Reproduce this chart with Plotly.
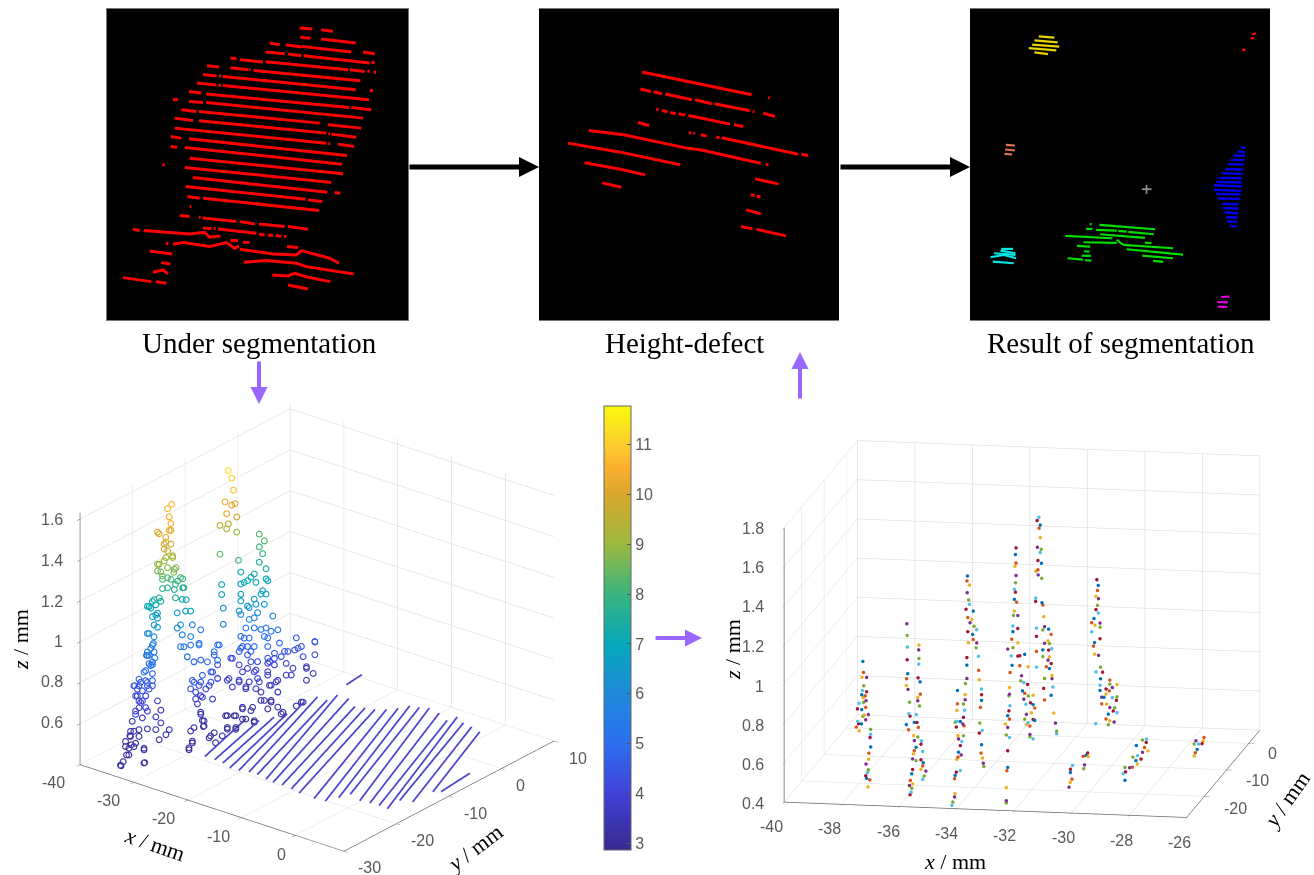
import plotly.graph_objects as go

W, H = 1314, 875

# ---------- top row: scan rows seen in the three black panels (image units) ----------
under_rows = [(600,85,638,88),(665,90,700,95),(602,113,632,116),(665,118,768,130),(510,130,540,135),(558,135,605,142),
 (605,140,755,157),(790,157,825,162),(498,157,555,162),(565,163,605,168),(612,168,810,190),(815,188,825,188),
 (392,175,410,177),(420,180,490,187),(498,186,745,210),(750,210,795,215),(803,214,810,215),(822,217,829,218),
 (322,198,358,202),(392,204,445,210),(448,209,453,210),(462,212,782,243),(310,224,350,229),(358,229,364,229),(370,230,768,270),
 (810,272,820,273),(292,250,350,256),(356,257,364,257),(370,257,808,300),(268,275,305,280),(320,283,748,323),(755,323,815,330),
 (268,305,310,308),(320,308,790,355),(245,330,290,335),(298,335,660,370),(685,375,785,385),(225,355,280,362),(298,363,680,400),
 (686,402,691,402),(695,403,770,412),(225,385,680,430),(686,431,692,432),(715,433,763,440),(213,410,245,415),(268,417,742,467),
 (213,440,232,442),(255,443,727,493),(270,475,730,522),(255,503,695,548),(280,533,683,577),(258,560,618,598),(625,600,668,605),
 (263,590,300,595),(310,595,658,632),(240,647,270,650),(297,652,303,652),(310,654,410,665),(420,665,465,672),
 (478,672,555,680),(565,680,625,688),(310,684,335,686),(342,686,348,686),(355,687,470,700),(478,702,495,705),(505,705,520,707),
 (528,707,545,709),(553,710,560,710),(392,722,415,722),(430,727,450,728),(562,740,595,743),(150,753,218,762),(185,788,212,792),
 (70,833,155,845),(168,845,200,850),(565,855,625,867),(270,620,275,620),(188,495,195,495),(220,300,235,299),(705,578,722,580),
 (812,272,819,272),(100,688,120,692),(198,731,206,731)]
under_wavy = [[(132,692),(200,698),(270,702),(315,697),(330,712),(362,708)],
 [(220,733),(250,728),(330,740),(380,728),(405,745),(418,738)],
 [(420,748),(520,762),(590,765),(605,752),(690,775),(718,790)],
 [(160,817),(190,810),(205,822)],
 [(432,787),(500,782),(590,790),(620,800),(762,822)],
 [(518,825),(565,828),(585,820),(625,832),(692,845)]]

height_rows = [(335,217,665,285),(330,268,362,275),(370,276,395,282),(405,283,485,300),(495,300,545,312),(553,312,660,333),
 (668,335,673,336),(700,340,735,350),(715,293,720,295),(378,328,385,330),(395,332,412,336),(420,338,436,342),(445,342,465,346),
 (475,347,600,373),(612,375,640,380),(323,368,357,377),(175,392,280,405),(280,405,470,445),(470,445,510,450),(510,450,692,490),
 (708,494,716,495),(112,430,270,457),(270,457,450,495),(162,489,270,508),(270,508,345,525),(215,549,273,562),(476,398,483,400),
 (490,400,495,401),(512,405,530,409),(558,412,568,414),(575,414,805,463),(815,463,835,467),(675,537,745,552),(662,585,675,587),
 (680,589,692,591),(648,630,693,642),(633,680,668,687),(680,688,768,708)]

seg_yellow = [(235,110,282,114),(222,122,292,128),(215,135,297,141),(205,145,288,152),(222,158,263,163)]
seg_red = [(878,103,890,102),(874,115,884,116),(848,150,858,151)]
seg_orange = [(136,435,163,437),(134,449,163,452),(132,462,155,464)]
seg_blue = [(845,443,858,444),(835,455,857,457),(822,467,856,468),(813,480,855,481),(805,493,853,494),(797,508,852,509),
 (786,520,850,522),(778,534,848,535),(770,546,848,548),(763,556,847,560),(763,570,845,573),(770,582,845,584),(775,596,842,597),
 (788,612,838,613),(790,625,838,626),(795,638,836,640),(800,652,835,653),(803,664,833,666),(812,678,832,680)]
seg_cyan = [(122,747,158,747),(100,760,165,765),(90,772,130,765),(130,765,167,775),(97,785,160,790),(120,752,165,760)]
seg_green = [(418,675,586,688),(408,690,470,692),(475,693,500,695),(505,696,582,703),(378,687,397,687),(389,673,395,673),
 (315,708,457,715),(420,703,555,714),(370,727,470,729),(470,720,490,735),(490,735,640,745),(555,728,575,730),(350,738,390,740),
 (500,748,670,764),(372,754,388,755),(365,767,392,768),(322,775,368,779),(375,781,394,782),(547,767,640,775),(580,783,610,786)]
seg_magenta = [(785,891,810,890),(773,906,805,907),(775,920,803,921)]
seg_cross = [(546,568,575,568),(560,555,560,582)]

# ---------- lower left: points read as (y, z, colour value), one list per x ----------
leg1_x = -33
leg1 = [(-29.39,.447,3.2),(-29.01,.462,3.2),(-28.37,.486,3.2),(-27.92,.513,3.2),(-27.47,.524,3.2),(-26.63,.52,3.2),(-28.56,.555,3.2),
 (-27.72,.571,3.3),(-26.96,.583,3.4),(-25.99,.578,3.4),(-25.03,.466,3.2),(-24.9,.402,3.1),(-27.28,.636,4),(-26.63,.661,4),(-25.99,.685,4),
 (-25.35,.71,4.1),(-26.31,.747,4.2),(-24.71,.726,4.2),(-24.07,.75,4.3),(-25.67,.805,4.6),(-24.71,.8,4.6),(-23.43,.758,4.4),(-26.83,.804,4.7),
 (-24.07,.874,5.2),(-23.43,.861,5.2),(-24.58,.922,5.4),(-23.75,.944,5.6),(-22.98,.888,5.4),(-23.11,.993,6),(-24.07,1.022,6.2),(-23.11,1.051,6.5),
 (-22.47,1.075,6.7),(-23.43,1.096,6.9),(-24.07,1.154,7.3),(-23.11,1.174,7.5),(-22.15,1.17,7.5),(-21.51,1.207,7.8),(-22.79,1.095,6.9),
 (-22.47,1.339,9),(-21.83,1.293,8.7),(-20.87,1.35,9.1),(-20.55,1.296,8.8),(-18.94,1.275,8.8),(-19.58,1.333,9),(-21.51,1.268,8.4),
 (-20.87,1.425,10),(-22.15,1.483,10.1),(-19.9,1.403,9.8),(-21.19,1.396,9.7),(-20.22,1.54,10.5),(-19.78,1.596,10.7),(-20.55,1.585,10.6),(-19.9,1.47,10.2),
 (-29.52,.452,3.2),(-25.03,.402,3.1),(-27.92,.48,3.1),(-26.96,.508,3.2),(-28.56,.53,3.2),(-27.6,.566,3.2),(-25.99,.545,3.2),(-27.6,.591,3.3),(-25.03,.474,3.2),
 (-24.39,.56,3.4),(-20.87,.484,3.2),(-22.15,.477,3.2),(-22.79,.535,3.3),(-21.83,.555,3.5),(-20.22,.5,3.3),(-25.35,.627,3.6),(-27.28,.636,3.5),(-26.63,.677,3.9),
 (-24.39,.647,3.8),(-25.67,.706,4),(-26.63,.751,4.2),(-24.71,.725,4.2),(-22.47,.671,3.9),(-21.83,.617,3.6),(-22.79,.597,3.5),(-26.31,.78,4.4),(-24.39,.771,4.5),
 (-25.99,.825,4.8),(-23.43,.783,4.7),(-26.96,.805,4.6),(-24.71,.849,5),(-23.43,.874,5.3),(-24.07,.915,5.5),(-23.43,.956,5.8),(-24.39,.936,5.6),
 (-22.79,1.145,7),(-24.39,1.159,7),(-23.43,1.17,7.3),(-22.47,1.1,6.7),(-23.43,1.096,6.6),(-24.39,1.026,6),(-23.24,.962,5.7),(-23.11,.919,5.4),(-24.39,.919,5.3),
 (-23.75,.861,5),(-25.03,.846,4.9),(-23.43,.817,4.8),(-25.99,.792,4.5),(-24.39,.787,4.6),(-26.63,.752,4.2),(-25.35,.759,4.3),(-25.99,.718,4.1),(-24.71,.668,3.9),
 (-22.47,1.031,6.4),(-22.15,1.334,8.9),(-21.19,1.338,9.1),(-22.47,1.306,8.6),(-21.51,1.252,8.2),(-20.55,1.247,8.2),(-19.26,1.271,8.6),(-19.9,1.23,8.1),(-18.62,1.205,7.9),
 (-17.66,1.203,7.9),(-20.55,1.198,7.7),(-19.26,1.172,7.5),(-17.66,1.159,7.5),(-17.02,1.092,7.1),(-21.83,1.149,7.4),(-23.75,1.142,7),(-20.87,1.449,10.2),(-21.19,1.42,10),
 (-20.55,1.379,9.7),(-19.58,1.341,9.4),(-20.22,1.474,10.3),(-19.9,1.503,10.5),(-22.47,1.496,10.1)]
leg2_x = -30
leg2 = [(-22.44,1.325,8.7),(-21.15,1.282,8.2),(-22.12,1.262,8),(-20.51,1.224,7.7),(-20.83,1.171,7.3),(-22.12,1.196,7.5),(-20.19,1.105,6.8),
 (-19.23,1.092,6.8),(-21.8,1.118,6.6),(-21.8,1.044,6.2),(-21.15,1.051,6.3),(-20.83,.998,5.8),(-19.23,.968,5.7),(-18.91,1.021,6),(-17.31,.975,5.3),
 (-20.51,.935,5.5),(-19.23,.926,5.5),(-17.63,.913,5.2),(-19.87,.877,5.3),(-18.59,.835,5),(-17.31,.827,4.8),(-16.03,.801,4.7),(-14.74,.817,4.6),
 (-13.78,.853,5),(-14.1,.76,4.3),(-15.06,.738,4.3),(-18.59,.736,4.8),(-17.31,.719,4.5),(-15.71,.681,4.2),(-14.1,.695,4.2),(-18.27,.683,4.2),
 (-16.99,.641,3.8),(-15.06,.606,3.7),(-17.95,.621,3.7),(-17.31,.572,3.3),(-16.99,.527,3.2),(-16.67,.496,3.2),(-19.23,.506,3.2),(-18.59,.514,3.2),
 (-18.91,.443,3.1),(-19.55,.419,3.1),(-15.71,.425,3.1),(-14.74,.437,3.1),
 (-18.91,.452,3.1),(-19.55,.428,3.1),(-17.31,.562,3.4),(-16.67,.521,3.3),(-16.8,.495,3.2),(-17.31,.653,3.9),(-18.27,.65,3.8),
 (-19.23,.712,4.2),(-17.63,.707,4.2),(-16.35,.673,4.2),(-15.38,.693,4.3),(-18.91,.749,4.5),(-16.99,.748,4.5),(-15.38,.743,4.6),(-14.1,.693,4.4),(-16.03,.801,5),
 (-14.1,.783,5),(-18.59,.836,5.1),(-14.74,.833,5.2),(-14.1,.858,5.4),(-17.63,.905,5.6),(-19.87,.878,5.3),(-21.15,.944,5.6)]
peak2_x = -34
peak2 = [(-7.95,1.593,11.4),(-7.31,1.547,11.2),(-6.99,1.484,10.8),(-8.59,1.448,10.5),(-6.67,1.414,10.2),(-7.31,1.415,10.2),(-8.27,1.386,10.2),
 (-6.35,1.344,9.8),(-9.55,1.346,9.5),(-7.95,1.332,9.5),(-8.27,1.312,9.4),(-6.35,1.27,9),(-9.55,1.205,8.4),(-6.03,1.128,8.1),(-9.23,1.053,7),
 (-9.23,1.004,6.8),(-8.91,.933,6.3),(-8.91,.854,6)]
peak3_x = -28
peak3 = [(-8.21,1.337,8.3),(-7.24,1.291,8.2),(-8.21,1.275,8),(-7.57,1.233,8),(-8.21,1.2,7.6),(-6.92,1.151,7.4),(-9.17,1.156,7.3),(-11.73,1.199,7.1),
 (-11.73,1.141,7),(-10.45,1.14,7),(-8.85,1.11,7),(-6.6,1.088,7),(-7.57,1.052,6.9),(-6.92,1.027,6.8),(-11.73,1.058,6.7),(-9.17,1.032,6.6),(-7.24,.981,6.5),
 (-10.13,1.004,6.4),(-11.73,.992,6.2),(-8.53,.958,6.1),(-10.13,.946,5.9),(-5.64,.902,5.8),(-10.77,.913,5.4),(-7.89,.867,5.4),(-5.96,.832,5.3),
 (-4.68,.822,5.3),(-11.73,.885,5.1),(-10.13,.855,5),(-7.24,.824,5),(-10.45,.818,4.8),(-11.73,.827,4.8),(-9.17,.801,4.8),(-6.6,.766,4.8),(-4.36,.753,4.8),
 (-1.15,.735,4.6),(-.19,.68,4.4),(2.37,.667,4.5),(-10.45,.777,4.3),(-6.6,.709,4.3),(-3.4,.699,4.4),(-1.48,.68,4.3),(2.37,.605,4.1),(.13,.626,4.2),
 (-13.33,.799,4.1),(-12.05,.75,3.9),(-10.45,.711,3.8),(-8.85,.681,3.8),(-6.6,.684,4),(-5.32,.659,4),(-3.08,.636,4),(.77,.56,3.6),(2.05,.518,3.6),
 (-14.3,.705,3.6),(-12.05,.667,3.7),(-10.13,.641,3.6),(-8.53,.636,3.8),(-6.6,.626,3.8),(-4.68,.575,3.6),(-2.12,.566,3.7),(-10.77,.616,3.4),
 (-6.28,.572,3.6),(-7.89,.561,3.5),(-4.68,.517,3.4),(-7.89,.52,3.3),(-5.96,.494,3.4),(-9.49,.508,3.2),(-11.41,.526,3.2),(-13.01,.514,3.1),
 (-14.3,.532,3.1),(-10.77,.468,3.1),(-12.69,.452,3),(-14.3,.466,3),(-9.17,.438,3),(-6.6,.461,3.2),(-3.72,.406,3.1),(.13,.403,3.2),
 (-17.5,.476,3.2),(-16.54,.43,3.1),(-15.26,.446,3.1),(-14.3,.474,3.1),(-12.69,.444,3),(-11.41,.476,3),(-9.17,.43,3),(-12.69,.51,3.2),(-9.81,.496,3.2),(-11.41,.534,3.3),
 (-14.62,.536,3.2),(-4.04,.402,3.1),(-5.96,.486,3.4),(-4.68,.444,3.3),(-1.15,.402,3.2),(-.19,.408,3.3),(-13.98,.709,3.8),(-13.33,.659,3.8),(-12.05,.675,3.9),(-10.77,.625,3.7),
 (-13.65,.804,4.3),(-11.41,.707,4.1),(-9.17,.677,3.9),(-9.81,.735,4.3),(-12.05,.815,4.7),(-9.17,.801,4.9),(-7.24,.511,3.5),(-8.85,.59,3.7),(-8.21,.615,3.8),(-5.96,.568,3.8),
 (-4.68,.518,3.7),(-3.08,.579,3.9),(-5,.572,3.8),(-6.6,.643,4),(-6.28,.688,4.3),(-4.04,.682,4.4),(-5.32,.716,4.5),(-2.76,.69,4.5),(-.83,.68,4.6),(.77,.568,3.7),(.77,.502,3.5),
 (2.37,.67,4.5),(-1.8,.595,3.7),(-11.09,1.14,7),(-9.81,1.148,7.1),(-11.73,1.091,6.9),(-10.45,1.016,6.4),(-8.85,1.003,6.4),(-7.89,1.04,6.7),(-6.92,1.101,7.1),(-12.05,1.013,6.3),
 (-9.17,.941,5.9),(-11.09,.868,5.1),(-9.17,.892,5.4),(-6.92,.861,5.4),(-9.81,.785,4.7),(-8.53,.718,4.3),(-11.41,.831,4.8),(-5.32,.691,4.5),(-6.6,.808,5)]

# dense rows on the floor: x and y at each end of a row
row_z = 0.44
row_x0 = [-25.72,-23.9,-22.26,-20.4,-18.8,-17.3,-15.8,-13.8,-12.3,-10.7,-8.8,-7,-4.1,-2.25,-1.47,-.9,1.6,3.25,4.86,6.5,6.1,7.9,8,8.9,-25.17]
row_y0 = [-20.88,-20.88,-21.01,-21.6,-21.5,-21.1,-21.09,-21.46,-21.64,-21.57,-21.76,-22.12,-22.27,-22,-20.25,-18.63,-19.4,-19.15,-19.06,-19.17,-16.4,-15.77,-12.03,-11.4,5.5]
row_x1 = [-29.2,-27.37,-26.4,-25.64,-26.26,-25.84,-24.03,-23.97,-21.9,-19.46,-18,-16.53,-15.23,-14.15,-13.35,-11.9,-10.63,-8.4,-5.9,-5.5,-3.5,-1.7,.3,8.2,-25.6]
row_y1 = [-9.5,-8.88,-7,-5.3,-1.4,.7,.7,2.6,2.6,1.3,1.7,2.1,2.96,4.05,5.45,5.8,6.4,6,4.95,6.45,5.6,5.3,4.8,-5.2,8.9]

# ---------- lower right: points read as (x, z), one list per y ----------
strand_a_y = -24
strand_a = [(-37.57,1.078),(-37.55,1.022),(-37.6,.997),(-37.44,.997),(-37.54,.954),(-37.59,.929),(-37.44,.924),(-37.61,.908),(-37.49,.903),(-37.56,.893),
 (-37.46,.878),(-37.55,.869),(-37.7,.864),(-37.76,.835),(-37.61,.832),(-37.47,.844),(-37.52,.805),(-37.38,.808),(-37.57,.798),(-37.75,.771),(-37.72,.759),
 (-37.62,.759),(-37.8,.742),(-37.7,.723),(-37.47,.781),(-37.3,.733),(-37.3,.708),(-37.32,.691),(-37.3,.643),(-37.36,.611),(-37.37,.58),(-37.46,.555),
 (-37.38,.526),(-37.41,.512),(-37.47,.495),(-37.44,.482),(-37.33,.475),(-37.39,.439)]
strand_b_y = -24
strand_b = [(-36.04,1.279),(-36.03,1.219),(-36.02,1.16),(-36.03,1.095),(-36.01,1.024),(-36.05,.998),(-36.06,.964),(-36,.944),(-35.95,.879),(-35.97,.82),
 (-35.93,.808),(-36.06,.764),(-35.98,.738),(-35.62,1.172),(-35.63,1.148),(-35.62,1.104),(-35.63,1.075),(-35.65,1.005),(-35.58,.985),(-35.57,.922),
 (-35.66,.905),(-35.66,.888),(-35.6,.862),(-35.71,.817),(-35.69,.777),(-35.78,.777),(-35.64,.752),(-35.81,.709),(-35.78,.684),(-35.66,.703),(-35.53,.684),
 (-35.55,.667),(-35.72,.65),(-35.78,.633),(-35.81,.616),(-35.84,.59),(-35.72,.582),(-35.49,.63),(-35.55,.587),(-35.47,.573),(-35.49,.556),(-35.55,.539),
 (-35.38,.531),(-35.44,.505),(-35.49,.488),(-35.84,.536),(-35.87,.514),(-35.92,.48),(-35.84,.463),(-35.95,.454),(-35.87,.441),(-35.89,.42),(-35.93,.407)]
strand_c_y = -27
strand_c = [(-33.7,1.576),(-33.72,1.551),(-33.63,1.53),(-33.71,1.491),(-33.66,1.454),(-33.63,1.432),(-33.75,1.406),(-33.5,1.398),(-33.69,1.364),(-33.55,1.355),
 (-33.61,1.338),(-33.47,1.321),(-33.38,1.304),(-33.69,1.292),(-33.52,1.279),(-33.5,1.253),(-33.67,1.236),(-33.38,1.236),(-33.4,1.211),(-33.32,1.168),(-33.72,1.16),
 (-33.72,1.121),(-33.31,1.097),(-33.29,1.049),(-33.72,1.053),(-33.77,1.027),(-33.21,1.002),(-33.21,.973),(-33.21,.944),(-33.25,.908),(-33.78,.97),(-33.78,.944),
 (-33.84,.922),(-33.8,.891),(-33.84,.854),(-34.05,.99),(-34.05,.922),(-34.07,.888),(-33.86,.82),(-34.13,.828),(-34.07,.832),(-34.09,.803),(-33.95,.832),(-33.82,.811),
 (-34.03,.76),(-34.01,.743),(-33.84,.76),(-33.9,.73),(-33.95,.709),(-34.01,.675),(-34.03,.65),(-34.07,.638),(-33.92,.662),(-33.27,.828),(-33.19,.791),(-33.29,.777),
 (-33.21,.718),(-33.23,.675),(-33.18,.65),(-33.15,.624),(-33.13,.607),(-33.95,.582),(-34.09,.573),(-34.13,.556),(-34.15,.539),(-34.13,.463),(-34.15,.446),(-34.21,.42),(-34.24,.403)]
strand_d_y = -27
strand_d = [(-32.01,1.729),(-32.03,1.695),(-32.01,1.652),(-32.05,1.635),(-32.01,1.588),(-32.03,1.551),(-32.07,1.517),(-32.03,1.503),(-32.07,1.466),(-31.99,1.452),
 (-32.07,1.406),(-31.95,1.384),(-32.1,1.384),(-32.12,1.33),(-31.95,1.318),(-32.12,1.301),(-32.16,1.262),(-31.95,1.245),(-32.3,1.211),(-32.12,1.219),(-32.18,1.177),
 (-31.95,1.177),(-32.15,1.129),(-32.22,1.092),(-32.24,1.015),(-32.24,.981),(-32.26,.973),(-32.22,.922),(-32.26,.896),(-32.3,.871),(-32.24,.854),(-32.38,.828),
 (-32.3,.811),(-32.35,.772),(-32.24,.76),(-32.3,.692),(-32.3,.607),(-32.33,.59),(-32.35,.504),(-32.35,.437),(-32.35,.426)]
strand_e_y = -20
strand_e = [(-31.76,1.792),(-31.82,1.775),(-31.71,1.753),(-31.75,1.736),(-31.71,1.689),(-31.81,1.639),(-31.68,1.629),(-31.71,1.612),(-31.79,1.571),(-31.67,1.558),
 (-31.79,1.524),(-31.87,1.515),(-31.78,1.498),(-31.66,1.481),(-31.87,1.379),(-31.87,1.362),(-31.65,1.357),(-31.62,1.345),(-31.59,1.286),(-31.56,1.235),(-31.62,1.218),
 (-31.84,1.226),(-31.84,1.184),(-31.42,1.223),(-31.33,1.197),(-31.44,1.163),(-31.56,1.15),(-31.39,1.15),(-31.31,1.124),(-31.42,1.116),(-31.62,1.116),(-31.84,1.107),
 (-31.39,1.082),(-31.44,1.065),(-31.62,1.082),(-31.84,1.027),(-31.33,1.048),(-31.39,1.022),(-31.5,1.031),(-31.3,.988),(-31.3,.971),(-31.56,.971),(-31.27,.929),
 (-31.59,.92),(-31.33,.886),(-31.56,.861),(-31.24,.796),(-31.18,.745),(-31.14,.704),(-31.14,.691),(-32.42,1.082),(-32.25,1.09),(-32.42,1.031),(-32.13,1.027),
 (-32.36,.98),(-32.39,.954),(-32.28,.946),(-32.15,.937),(-32.33,.903),(-32.25,.891),(-31.96,.883),(-32.28,.861),(-32.13,.878),(-32.21,.835),(-32.05,.844),(-31.96,.835),
 (-31.9,.818),(-32.02,.793),(-32.19,.784),(-32.25,.759),(-32.13,.742),(-31.96,.759),(-31.9,.755),(-32.07,.725),(-32.19,.733),(-32.07,.682),(-32.07,.67),(-31.96,.66)]
strand_f_y = -5
strand_f = [(-30.9,1.276),(-30.85,1.247),(-30.88,1.221),(-30.93,1.191),(-30.84,1.179),(-30.88,1.145),(-30.85,1.106),(-30.93,1.123),(-31,1.077),(-31.08,1.055),
 (-30.96,1.043),(-30.79,1.055),(-30.79,1.034),(-31.08,1.009),(-30.79,.975),(-30.98,.954),(-31.02,.936),(-30.98,.895),(-30.84,.89),(-30.77,.83),(-30.93,.805),(-30.7,.805),
 (-30.77,.771),(-30.45,.766),(-30.2,.745),(-30.36,.728),(-30.45,.745),(-30.79,.737),(-30.58,.72),(-30.79,.711),(-30.47,.711),(-30.58,.694),(-30.73,.677),(-30.2,.682),
 (-30.36,.677),(-30.22,.664),(-30.65,.677),(-30.73,.643),(-30.56,.643),(-30.45,.626),(-30.28,.626),(-30.2,.601),(-30.33,.609),(-30.5,.592),(-30.58,.567),(-30.45,.558),
 (-30.3,.553),(-30.5,.538),(-30.94,.541)]
floor_z = 0.44
floor_pts = [(-30.94,-8.6),(-30.93,-9.5),(-31,-9.9),(-30.82,-9.9),(-30.71,-13),(-30.63,-14.4),(-31.1,-13.4),(-31.06,-14.8),(-30.97,-16),(-30.73,-18.4),(-30.7,-19.6),(-30.6,-21.4),
 (-29.46,-3.1),(-29.35,-2.7),(-29.27,-3.9),(-29.51,-5.2),(-29.18,-5.8),(-28.97,-7),(-29.11,-7.6),(-29.3,-9.5),(-29.18,-8.9),(-28.97,-10.1),(-29.1,-10.7),(-29.03,-13.2),
 (-28.95,-12),(-29.11,-13.4),(-29.27,-13.4),(-29.16,-15.7),(-29.13,-15),(-28.91,-18.1),(-27.46,-1.3),(-27.39,-2.6),(-27.64,-2.6),(-27.61,-3.8),(-27.46,-3.8),(-27.35,-3.6),
 (-27.35,-5.8),(-27.32,-7),(-27.27,-8.2)]

left_x_ticks = [-40,-30,-20,-10,0]
left_y_ticks = [-30,-20,-10,0,10]
left_z_ticks = [0.6,0.8,1,1.2,1.4,1.6]
right_x_ticks = [-40,-38,-36,-34,-32,-30,-28,-26]
right_y_ticks = [-20,-10,0]
right_z_ticks = [0.4,0.6,0.8,1,1.2,1.4,1.6,1.8]
cbar_ticks = [3,4,5,6,7,8,9,10,11]

PARULA = [[0,'#372a8f'],[.128,'#4141d8'],[.24,'#2c6ef0'],[.352,'#1f8ada'],[.464,'#05a8ba'],[.576,'#38b47e'],[.688,'#9cb93f'],[.8,'#d8a82c'],[.86,'#fbae2e'],[.913,'#fdcd2e'],[1,'#f9fb0e']]
MATLAB = ['#0072BD','#D95319','#EDB120','#7E2F8E','#77AC30','#4DBEEE','#A2142F']

fig = go.Figure()

def flat(segs, paths=()):
    xs, ys = [], []
    for a, b, c, d in segs:
        xs += [a, c, None]; ys += [b, d, None]
    for p in paths:
        xs += [q[0] for q in p] + [None]; ys += [q[1] for q in p] + [None]
    return xs, ys

def panel(name, segs, color, width=3, paths=()):
    xs, ys = flat(segs, paths)
    fig.add_trace(go.Scatter(x=xs, y=ys, mode='lines', line=dict(color=color, width=width), xaxis='x'+name, yaxis='y'+name, hoverinfo='skip'))

panel('', under_rows, '#ff0000', 3, under_wavy)
panel('2', height_rows, '#ff0000', 3)
panel('3', seg_yellow, '#e6d400', 2.2)
panel('3', seg_red, '#ff0000', 2.2)
panel('3', seg_orange, '#dd7a50', 2.2)
panel('3', seg_blue, '#0000f0', 2.4)
panel('3', seg_cyan, '#00e6e6', 2.2)
panel('3', seg_green, '#00e000', 2.2)
panel('3', seg_magenta, '#e600e6', 2.2)
panel('3', seg_cross, '#8c8c8c', 1.8)

def panel_axes(x0, x1, xr, yr):
    common = dict(showgrid=False, zeroline=False, showticklabels=False, ticks='', showline=True, mirror=True, linecolor='#777', linewidth=1, fixedrange=True)
    return dict(domain=[x0/W, x1/W], range=xr, **common), dict(domain=[1-320/H, 1-9/H], range=yr, **common)

xa1, ya1 = panel_axes(107, 408, [22, 925], [960, 28])
xa2, ya2 = panel_axes(539, 839, [25, 928], [960, 28])
xa3, ya3 = panel_axes(970, 1270, [28, 932], [960, 28])

# lower left
circ_x = [leg1_x]*len(leg1) + [leg2_x]*len(leg2) + [peak2_x]*len(peak2) + [peak3_x]*len(peak3)
circ = leg1 + leg2 + peak2 + peak3
rx, ry, rz = [], [], []
for a, b, c, d in zip(row_x0, row_y0, row_x1, row_y1):
    rx += [a, c, None]; ry += [b, d, None]; rz += [row_z, row_z, None]
fig.add_trace(go.Scatter3d(x=rx, y=ry, z=rz, mode='lines', scene='scene', hoverinfo='skip',
    line=dict(color='#4f45cc', width=3.5)))
circ_c = [p[2] for p in circ]
fig.add_trace(go.Scatter3d(x=circ_x, y=[p[0] for p in circ], z=[p[1] for p in circ], mode='markers', scene='scene', hoverinfo='skip',
    marker=dict(size=3.6, symbol='circle-open', color=circ_c, cmin=2.86, cmax=11.78, colorscale=PARULA,
        line=dict(width=1, color=circ_c, cmin=2.86, cmax=11.78, colorscale=PARULA),
        colorbar=dict(x=604/W, xanchor='left', y=1-406/H, yanchor='top', len=444/H, thickness=27, outlinewidth=1, outlinecolor='#666', xpad=0, ypad=0,
            tickvals=cbar_ticks, ticks='inside', ticklen=4, tickcolor='#555', tickprefix=' ', tickfont=dict(family='Liberation Sans', size=16, color='#595959')))))

# lower right
sx, sy, sz = [], [], []
for yv, strand in [(strand_a_y, strand_a), (strand_b_y, strand_b), (strand_c_y, strand_c), (strand_d_y, strand_d), (strand_e_y, strand_e), (strand_f_y, strand_f)]:
    sx += [p[0] for p in strand]; sy += [yv]*len(strand); sz += [p[1] for p in strand]
sx += [p[0] for p in floor_pts]; sy += [p[1] for p in floor_pts]; sz += [floor_z]*len(floor_pts)
fig.add_trace(go.Scatter3d(x=sx, y=sy, z=sz, mode='markers', scene='scene2', hoverinfo='skip',
    marker=dict(size=2, color=[MATLAB[i % 7] for i in range(len(sx))])))

def ax(rng, vals):
    return dict(range=rng, autorange=False, tickmode='array', tickvals=vals, showticklabels=False, title=dict(text=''),
        showbackground=False, gridcolor='#d6d6d6', gridwidth=1, showline=True, linecolor='#666', linewidth=1.5, ticks='outside', ticklen=5, tickcolor='#666',
        showspikes=False, zeroline=False)

r1, r2 = 1.345, 1.31
d1 = (0.564, -0.713, 0.415)
d2 = (0.172, -0.962, 0.213)
def cam(d, r):
    return dict(projection=dict(type='orthographic'), up=dict(x=0, y=0, z=1), eye=dict(x=d[0]*r, y=d[1]*r, z=d[2]*r))

serif = 'Liberation Serif'
def label(text, x, y, size=29, angle=0, family=serif, color='black', anchor='center'):
    return dict(text=text, xref='paper', yref='paper', x=x/W, y=1-y/H, xanchor=anchor, yanchor='middle', showarrow=False, textangle=angle, font=dict(family=family, size=size, color=color))
def arrow(x0, y0, x1, y1, color, width, asize):
    return dict(text='', xref='paper', yref='paper', x=x1/W, y=1-y1/H, ax=x0-x1, ay=y0-y1, axref='pixel', ayref='pixel', showarrow=True,
        arrowhead=2, arrowwidth=width, arrowsize=asize, arrowcolor=color)
def tick_labels(vals, xs, ys, anchor='center'):
    return [label(str(v), x, y, 16, 0, 'Liberation Sans', '#595959', anchor) for v, x, y in zip(vals, xs, ys)]

annots = [label('Under segmentation', 259, 343), label('Height-defect', 684, 343), label('Result of segmentation', 1121, 343),
    label('<i>x</i> / mm', 155, 844, 22, 19), label('<i>y</i> / mm', 474, 848, 22, -37), label('<i>z</i> / mm', 20, 640, 22, -90),
    label('<i>x</i> / mm', 955, 861, 22, 0), label('<i>y</i> / mm', 1286, 800, 22, -55), label('<i>z</i> / mm', 732, 650, 22, -90),
    arrow(408, 167, 539, 167, 'black', 5, 0.8), arrow(839, 167, 970, 167, 'black', 5, 0.8),
    arrow(259, 360, 259, 404, '#9966ff', 4, 0.85), arrow(800, 400, 800, 352, '#9966ff', 4, 0.85), arrow(654, 638, 702, 638, '#9966ff', 4, 0.85)]
annots += tick_labels(left_z_ticks, [65]*6, [722, 681, 641, 601, 560, 519], 'right')
annots += tick_labels(left_x_ticks, [53, 108, 163, 218, 281], [782, 800, 818, 836, 854])
annots += tick_labels(left_y_ticks, [369, 422, 475, 520, 578], [867, 840, 813, 785, 758])
annots += tick_labels(right_z_ticks, [766]*8, [803, 764, 725, 686, 646, 606, 567, 528], 'right')
annots += tick_labels(right_x_ticks, [771, 829, 888, 946, 1004, 1063, 1121, 1179], [826, 828, 831, 833, 835, 837, 840, 842])
annots += tick_labels(right_y_ticks, [1235, 1257, 1272], [808, 780, 753])

fig.update_layout(width=W, height=H, margin=dict(l=0, r=0, t=0, b=0), paper_bgcolor='white', plot_bgcolor='black', showlegend=False,
    xaxis=xa1, yaxis=ya1, xaxis2=xa2, yaxis2=ya2, xaxis3=xa3, yaxis3=ya3, annotations=annots,
    scene=dict(domain=dict(x=[0, 634/W], y=[3/H, 493/H]), aspectmode='manual', aspectratio=dict(x=1.373, y=1.382, z=1.129),
        xaxis=ax([-40, 9], left_x_ticks), yaxis=ax([-30, 10], left_y_ticks), zaxis=ax([0.4, 1.63], left_z_ticks), camera=cam(d1, r1)),
    scene2=dict(domain=dict(x=[730/W, 1], y=[1/H, 491/H]), aspectmode='manual', aspectratio=dict(x=1.669, y=1.70, z=1.146),
        xaxis=ax([-40, -26], right_x_ticks), yaxis=ax([-28, 5], right_y_ticks), zaxis=ax([0.4, 1.8], right_z_ticks), camera=cam(d2, r2)))
fig.write_html('out.html', config=dict(displayModeBar=False), post_script="document.body.style.margin='0';")
